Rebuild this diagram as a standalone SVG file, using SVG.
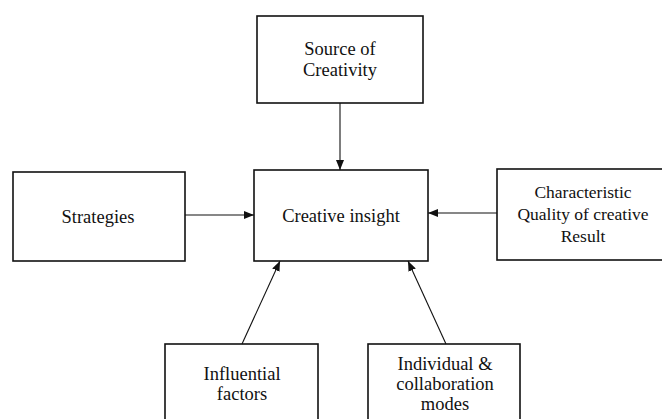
<svg xmlns="http://www.w3.org/2000/svg" width="662" height="419" viewBox="0 0 662 419" font-family="'Liberation Serif', 'Times New Roman', 'DejaVu Serif', serif">
<style>
.box{fill:#fff;stroke:#111;stroke-width:1.6}
text{font-family:'Liberation Serif','Times New Roman','DejaVu Serif',serif;font-size:18.5px;fill:#111;text-anchor:middle}
.s{font-size:17.5px}
.c{stroke:#111;stroke-width:1.1;fill:none;marker-end:url(#ah)}
</style>
<defs>
<marker id="ah" viewBox="0 0 10 10" refX="10" refY="5" markerWidth="10" markerHeight="10" markerUnits="userSpaceOnUse" orient="auto">
<path d="M0,1 L10,5 L0,9 Z" fill="#111"/>
</marker>
</defs>
<rect width="662" height="419" fill="#fff"/>
<g id="source">
<rect class="box" x="257" y="16" width="166" height="87"/>
<text x="340" y="55">Source of</text>
<text x="340" y="76">Creativity</text>
</g>
<g id="strategies">
<rect class="box" x="13" y="172" width="172" height="89"/>
<text x="98" y="223">Strategies</text>
</g>
<g id="insight">
<rect class="box" x="254" y="170" width="174" height="91"/>
<text x="341" y="222">Creative insight</text>
</g>
<g id="characteristic">
<rect class="box" x="497" y="169" width="172" height="91"/>
<text class="s" x="583" y="198">Characteristic</text>
<text class="s" x="583" y="220">Quality of creative</text>
<text class="s" x="583" y="242">Result</text>
</g>
<g id="influential">
<rect class="box" x="165" y="344" width="153" height="80"/>
<text x="242" y="380">Influential</text>
<text x="242" y="400">factors</text>
</g>
<g id="individual">
<rect class="box" x="368" y="344" width="152" height="80"/>
<text x="445" y="370">Individual &amp;</text>
<text x="445" y="390">collaboration</text>
<text x="445" y="410">modes</text>
</g>
<g id="connectors">
<line class="c" x1="340" y1="103" x2="340" y2="170"/>
<line class="c" x1="185" y1="215" x2="254" y2="215"/>
<line class="c" x1="497" y1="213" x2="428" y2="213"/>
<line class="c" x1="242" y1="344" x2="280" y2="261"/>
<line class="c" x1="446" y1="344" x2="408" y2="261"/>
</g>
</svg>
